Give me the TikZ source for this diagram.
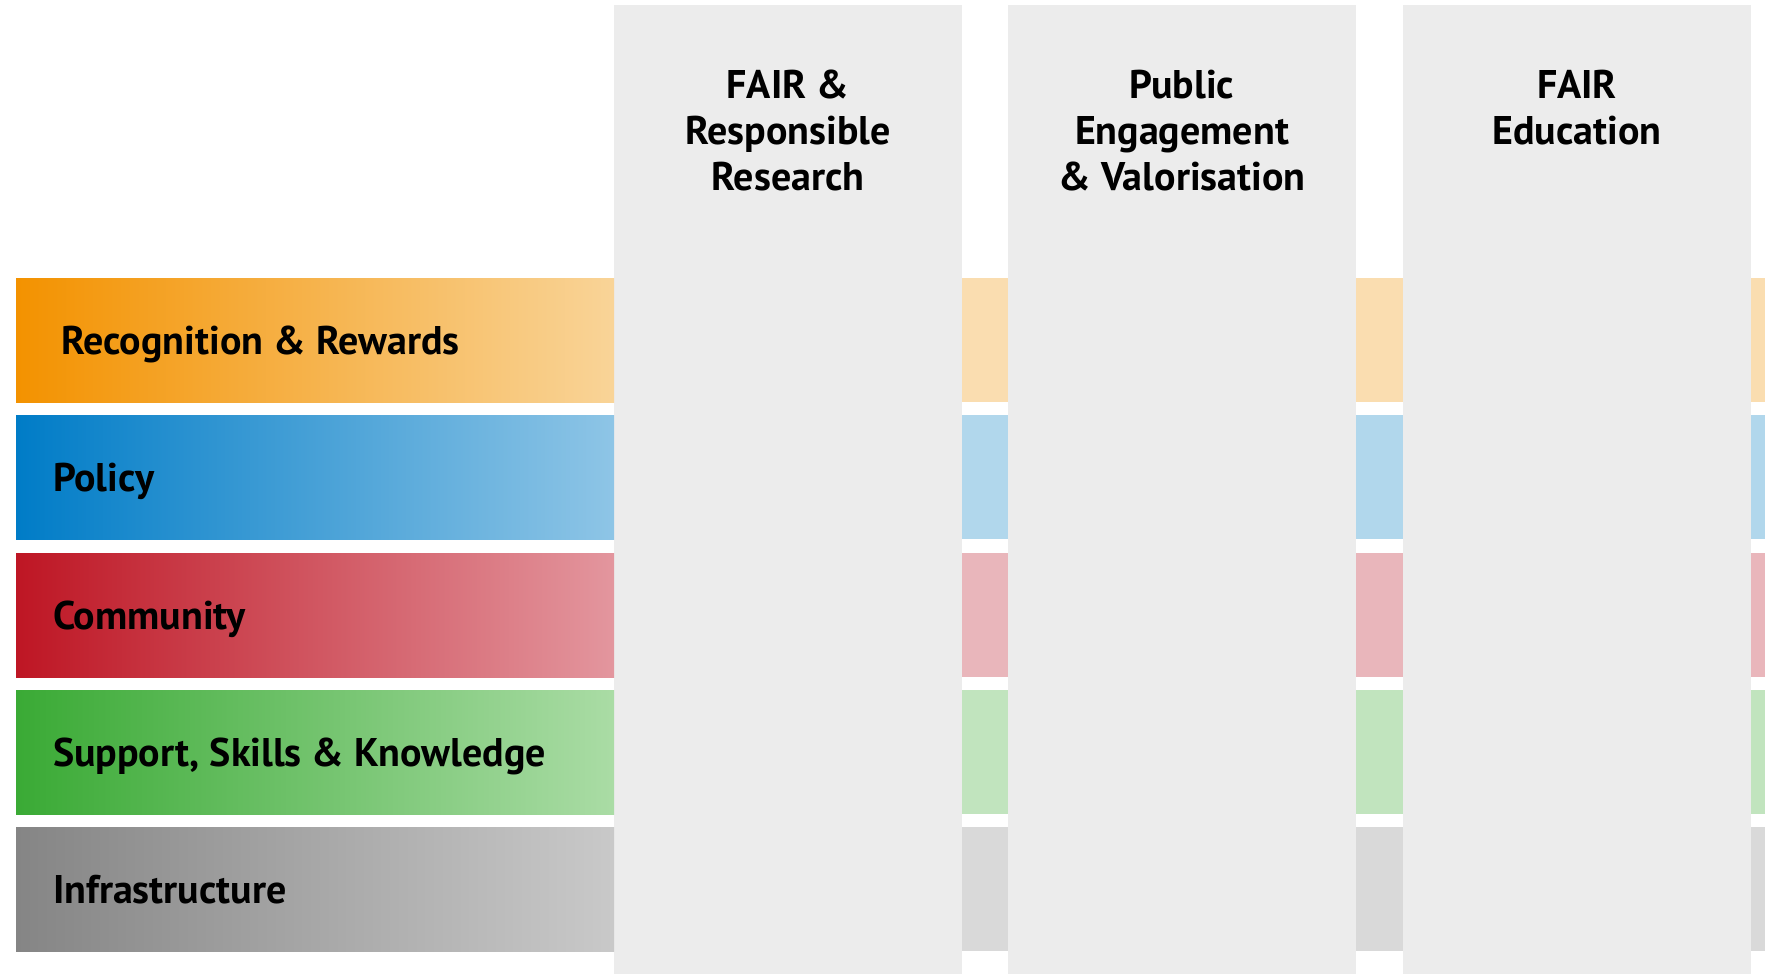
\documentclass[tikz,border=0pt]{standalone}
\usepackage{fontspec}
\setmainfont{PT Sans}
\usetikzlibrary{positioning}
\definecolor{pillargray}{RGB}{236,236,236}
\definecolor{rrdark}{RGB}{243,146,0}
\definecolor{rrmid}{RGB}{249,212,152}
\definecolor{rrlight}{RGB}{250,221,176}
\definecolor{poldark}{RGB}{0,124,199}
\definecolor{polmid}{RGB}{142,197,230}
\definecolor{pollight}{RGB}{177,215,236}
\definecolor{comdark}{RGB}{190,22,36}
\definecolor{commid}{RGB}{227,150,158}
\definecolor{comlight}{RGB}{233,182,187}
\definecolor{supdark}{RGB}{58,170,53}
\definecolor{supmid}{RGB}{170,220,165}
\definecolor{suplight}{RGB}{193,228,190}
\definecolor{infdark}{RGB}{133,133,133}
\definecolor{infmid}{RGB}{201,201,201}
\definecolor{inflight}{RGB}{217,217,217}
\tikzset{
  pillar/.style = {fill=pillargray, anchor=north, minimum width=348pt,
                   minimum height=970pt, inner sep=0pt},
  pillarhead/.style = {anchor=north, align=center, inner sep=0pt,
                   font=\fontsize{40}{46}\selectfont\bfseries},
  % Bands: the coloured part left of the first pillar, shaded left to right.
  band/.style   = {anchor=west, minimum width=598pt, minimum height=124pt,
                   inner ysep=0pt, inner xsep=37pt, text width=524pt,
                   text height=30pt, text depth=2pt, align=flush left,
                   font=\fontsize{40}{46}\selectfont\bfseries},
}

\begin{document}
\begin{tikzpicture}[x=1pt, y=-1pt]
    \useasboundingbox (0,0) rectangle (1765,974);

    % pale strips that run on behind the pillars
    \fill[rrlight]  (614,278) rectangle (1765,402);
    \fill[pollight] (614,415) rectangle (1765,539);
    \fill[comlight] (614,553) rectangle (1765,677);
    \fill[suplight] (614,690) rectangle (1765,814);
    \fill[inflight] (614,827) rectangle (1765,951);

    \node[pillar] (c1) at (788,4.5)  {};
    \node[pillar] (c2) at (1182,4.5) {};
    \node[pillar] (c3) at (1577,4.5) {};

    \node[pillarhead] (h1) at (788,70)  {FAIR \&\\Responsible\\Research};
    \node[pillarhead] (h2) at (1182,70) {Public\\Engagement\\\& Valorisation};
    \node[pillarhead] (h3) at (1577,70) {FAIR\\Education};

    \node[band, left color=rrdark, right color=rrmid, inner xsep=45pt,
          text width=508pt] (rr) at (15.8,340) {Recognition \& Rewards};
    \node[band, left color=poldark, right color=polmid] (pol) at (15.8,477) {Policy};
    \node[band, left color=comdark, right color=commid] (com) at (15.8,615) {Community};
    \node[band, left color=supdark, right color=supmid] (sup) at (15.8,752) {Support, Skills \& Knowledge};
    \node[band, left color=infdark, right color=infmid] (inf) at (15.8,889) {Infrastructure};
\end{tikzpicture}
\end{document}
